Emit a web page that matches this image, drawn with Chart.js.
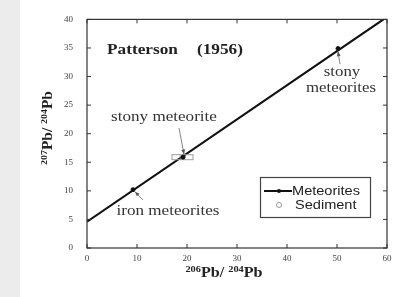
<!DOCTYPE html>
<html><head><meta charset="utf-8">
<script src="https://cdn.jsdelivr.net/npm/chart.js@4.4.1/dist/chart.umd.min.js"></script>
<style>
html,body{margin:0;padding:0;background:#fff;}
body{width:405px;height:297px;position:relative;overflow:hidden;background:linear-gradient(to right,#ececec 0,#ececec 20px,#fff 20px);}
#wrap{position:absolute;left:0;top:0;width:405px;height:297px;}
</style></head>
<body><div id="wrap"><canvas id="c" width="405" height="297"></canvas></div>
<script>
// ---- data ----
const xTicks = [0, 10, 20, 30, 40, 50, 60];
const yTicks = [0, 5, 10, 15, 20, 25, 30, 35, 40];
const fitX = [0, 59.3];
const fitY = [4.6, 40];
const meteoriteX = [9.2, 19.2, 50.2];
const meteoriteY = [10.2, 15.9, 34.9];
const sedimentX = [19.1];
const sedimentY = [15.9];
const annotations = ["iron meteorites", "stony meteorite", "stony", "meteorites"];
const legendLabels = ["Meteorites", "Sediment"];
const chartTitle = ["Patterson", "(1956)"];

const toPts = (xs, ys) => xs.map((x, i) => ({x: x, y: ys[i]}));

// sediment marker: small box with circle
const sedImg = document.createElement('canvas');
sedImg.width = 24; sedImg.height = 8;
(function(){
  const g = sedImg.getContext('2d');
  g.strokeStyle = '#9a9a9a'; g.lineWidth = 1;
  g.strokeRect(1.5, 1.5, 21, 5);
  g.beginPath(); g.arc(12, 4, 2.5, 0, Math.PI*2); g.stroke();
})();

const serif = "'Liberation Serif','DejaVu Serif',serif";
const sans = "'Liberation Sans',Arial,sans-serif";

function arrow(ctx, x1, y1, x2, y2){
  ctx.save();
  ctx.strokeStyle = '#666'; ctx.fillStyle = '#555'; ctx.lineWidth = 0.8;
  ctx.beginPath(); ctx.moveTo(x1, y1); ctx.lineTo(x2, y2); ctx.stroke();
  const a = Math.atan2(y2 - y1, x2 - x1), L = 5, w = 0.4;
  ctx.beginPath();
  ctx.moveTo(x2, y2);
  ctx.lineTo(x2 - L*Math.cos(a - w), y2 - L*Math.sin(a - w));
  ctx.lineTo(x2 - L*Math.cos(a + w), y2 - L*Math.sin(a + w));
  ctx.closePath(); ctx.fill();
  ctx.restore();
}

// text drawn with horizontal stretch sx, at x (left or center), y middle
function stext(ctx, text, x, y, font, sx, align){
  ctx.save();
  ctx.font = font; ctx.textBaseline = 'middle'; ctx.textAlign = 'left';
  const w = ctx.measureText(text).width * sx;
  const left = align === 'center' ? x - w/2 : x;
  ctx.translate(left, y); ctx.scale(sx, 1);
  ctx.fillText(text, 0, 0);
  ctx.restore();
}

function supText(ctx, parts, x, y, sx){
  const big = 'bold 14px ' + serif, small = 'bold 9px ' + serif;
  let w = 0;
  parts.forEach(p => { ctx.font = p[1] ? small : big; w += ctx.measureText(p[0]).width; });
  ctx.save();
  ctx.translate(x - w*sx/2, y); ctx.scale(sx, 1);
  let cx = 0;
  parts.forEach(p => {
    ctx.font = p[1] ? small : big;
    ctx.fillText(p[0], cx, p[1] ? -5 : 0);
    cx += ctx.measureText(p[0]).width;
  });
  ctx.restore();
}

const decor = {
  id: 'decor',
  afterDraw(chart){
    const ctx = chart.ctx, a = chart.chartArea;
    const xs = chart.scales.x, ys = chart.scales.y;
    ctx.save();
    // frame
    ctx.strokeStyle = '#333'; ctx.lineWidth = 1.2;
    ctx.strokeRect(a.left, a.top, a.right - a.left, a.bottom - a.top);
    // inward ticks on all four sides
    ctx.lineWidth = 1;
    xTicks.forEach(v => {
      const px = xs.getPixelForValue(v);
      ctx.beginPath(); ctx.moveTo(px, a.bottom); ctx.lineTo(px, a.bottom - 4);
      ctx.moveTo(px, a.top); ctx.lineTo(px, a.top + 4); ctx.stroke();
    });
    yTicks.forEach(v => {
      const py = ys.getPixelForValue(v);
      ctx.beginPath(); ctx.moveTo(a.left, py); ctx.lineTo(a.left + 4, py);
      ctx.moveTo(a.right, py); ctx.lineTo(a.right - 4, py); ctx.stroke();
    });
    // title
    ctx.fillStyle = '#222';
    stext(ctx, chartTitle[0], 107, 50, 'bold 15px ' + serif, 1.15, 'left');
    stext(ctx, chartTitle[1], 197, 50, 'bold 15px ' + serif, 1.15, 'left');
    // annotations
    ctx.fillStyle = '#333';
    const af = '14px ' + serif;
    stext(ctx, annotations[1], 164, 117, af, 1.22, 'center');
    stext(ctx, annotations[0], 168, 211, af, 1.22, 'center');
    stext(ctx, annotations[2], 342, 72, af, 1.2, 'center');
    stext(ctx, annotations[3], 341, 88, af, 1.2, 'center');
    arrow(ctx, 179, 128, xs.getPixelForValue(meteoriteX[1]) + 1, ys.getPixelForValue(meteoriteY[1]) - 3);
    arrow(ctx, 143, 200, xs.getPixelForValue(meteoriteX[0]) + 2, ys.getPixelForValue(meteoriteY[0]) + 2);
    arrow(ctx, 340, 64, xs.getPixelForValue(meteoriteX[2]), ys.getPixelForValue(meteoriteY[2]) + 3);
    // legend box
    ctx.fillStyle = '#fff';
    ctx.fillRect(260, 177, 110, 40);
    ctx.strokeStyle = '#444'; ctx.lineWidth = 1.2;
    ctx.strokeRect(260.5, 177.5, 110, 40);
    ctx.strokeStyle = '#111'; ctx.lineWidth = 2;
    ctx.beginPath(); ctx.moveTo(264, 191); ctx.lineTo(292, 191); ctx.stroke();
    ctx.fillStyle = '#111';
    ctx.beginPath(); ctx.arc(279, 191, 2, 0, Math.PI*2); ctx.fill();
    ctx.strokeStyle = '#999'; ctx.lineWidth = 1;
    ctx.beginPath(); ctx.arc(279, 205, 2.5, 0, Math.PI*2); ctx.stroke();
    ctx.fillStyle = '#222';
    stext(ctx, legendLabels[0], 292, 191, '13px ' + sans, 1.12, 'left');
    stext(ctx, legendLabels[1], 295, 205, '13px ' + sans, 1.12, 'left');
    // axis titles
    ctx.fillStyle = '#222'; ctx.textBaseline = 'alphabetic';
    supText(ctx, [['206', true], ['Pb/ ', false], ['204', true], ['Pb', false]], 224, 277, 1.15);
    ctx.translate(52, 128); ctx.rotate(-Math.PI/2);
    supText(ctx, [['207', true], ['Pb/ ', false], ['204', true], ['Pb', false]], 0, 0, 1.1);
    ctx.restore();
  }
};

new Chart(document.getElementById('c'), {
  type: 'scatter',
  data: {
    datasets: [
      {label: 'fit', data: toPts(fitX, fitY), showLine: true, borderColor: '#111', borderWidth: 2.2, pointRadius: 0, order: 2},
      {label: legendLabels[0], data: toPts(meteoriteX, meteoriteY), backgroundColor: '#111', borderColor: '#111', pointRadius: 2, order: 0},
      {label: legendLabels[1], data: toPts(sedimentX, sedimentY), pointStyle: sedImg, pointRadius: 4, order: 1}
    ]
  },
  options: {
    responsive: false, animation: false, devicePixelRatio: 1,
    layout: {padding: {left: 20, right: 18, top: 16, bottom: 0}},
    plugins: {legend: {display: false}, tooltip: {enabled: false}},
    scales: {
      x: {type: 'linear', min: 0, max: 60,
        afterBuildTicks(s){ s.ticks = xTicks.map(v => ({value: v})); },
        afterFit(s){ s.height = 49; },
        grid: {display: false, drawTicks: false}, border: {display: false},
        ticks: {padding: 5, color: '#444', font: {family: serif, size: 9}, maxRotation: 0}},
      y: {type: 'linear', min: 0, max: 40,
        afterBuildTicks(s){ s.ticks = yTicks.map(v => ({value: v})); },
        afterFit(s){ s.width = 67; },
        grid: {display: false, drawTicks: false}, border: {display: false},
        ticks: {padding: 14, color: '#444', font: {family: serif, size: 9}}}
    }
  },
  plugins: [decor]
});
</script></body></html>
